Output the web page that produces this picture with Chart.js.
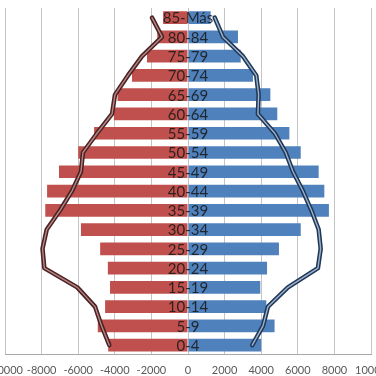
<!DOCTYPE html>
<html>
<head>
<meta charset="utf-8">
<script src="https://cdn.jsdelivr.net/npm/chart.js@4/dist/chart.umd.min.js"></script>
<style>
    html, body { margin: 0; padding: 0; background: #fff; overflow: hidden; width: 376px; height: 376px; }
    #wrap { position: absolute; left: -40px; top: 0; width: 456px; height: 400px; }
</style>
</head>
<body>
<div id="wrap"><canvas id="pyramid" width="456" height="400"></canvas></div>
<script>
/* ── Data ────────────────────────────────────────────── */
const AGE_GROUPS = ['0-4', '5-9', '10-14', '15-19', '20-24', '25-29', '30-34', '35-39', '40-44',
    '45-49', '50-54', '55-59', '60-64', '65-69', '70-74', '75-79', '80-84', '85-Más'];

// bars (left side as negatives, right side positive)
const LEFT_BARS = [-4360, -4930, -4530, -4260, -4380, -4800, -5850, -7800, -7700,
    -7050, -6000, -5130, -4050, -3850, -3060, -2240, -1680, -1360];
const RIGHT_BARS = [4000, 4730, 4280, 3950, 4320, 4970, 6160, 7700, 7450,
    7140, 6160, 5540, 4880, 4500, 3550, 2880, 2730, 1240];

// comparison outline
const LEFT_LINE = [-4300, -4720, -5080, -6050, -7850, -7950, -7720, -6990, -6340,
    -5850, -5740, -4970, -4150, -3990, -3280, -2510, -1420, -1970];
const RIGHT_LINE = [3510, 4100, 4370, 5460, 7100, 7250, 7140, 6740, 6280,
    5740, 5340, 4740, 3820, 3860, 3730, 3000, 1910, 1460];

const X_TICKS = [-10000, -8000, -6000, -4000, -2000, 0, 2000, 4000, 6000, 8000, 10000];

const RED = '#c0504d';
const BLUE = '#4f81bd';

function outline(data, color, width) {
    return {
        type: 'line',
        data,
        borderColor: color,
        borderWidth: width,
        pointRadius: 0,
        tension: 0,
        fill: false,
        borderCapStyle: 'round',
        borderJoinStyle: 'round',
    };
}

// age labels sit on the zero line, over the bars
const centerLabels = {
    id: 'centerLabels',
    afterDatasetsDraw(chart) {
        const { ctx, scales: { x, y } } = chart;
        ctx.save();
        ctx.font = '15px Lato, sans-serif';
        ctx.fillStyle = 'rgba(25,25,25,0.88)';
        ctx.textAlign = 'center';
        ctx.textBaseline = 'middle';
        AGE_GROUPS.forEach((lab, i) => {
            ctx.fillText(lab, x.getPixelForValue(0), y.getPixelForValue(i) + 1);
        });
        ctx.restore();
    },
};

// datasets are painted last-to-first, so the thin inner strokes come first
new Chart(document.getElementById('pyramid').getContext('2d'), {
    type: 'bar',
    data: {
        labels: AGE_GROUPS,
        datasets: [
            outline(LEFT_LINE, '#b98484', 1.4),
            outline(LEFT_LINE, '#4a2424', 4.5),
            outline(RIGHT_LINE, '#9db2cd', 1.4),
            outline(RIGHT_LINE, '#203857', 4.5),
            { data: LEFT_BARS, backgroundColor: RED, grouped: false, barPercentage: 0.66, categoryPercentage: 1 },
            { data: RIGHT_BARS, backgroundColor: BLUE, grouped: false, barPercentage: 0.66, categoryPercentage: 1 },
        ],
    },
    options: {
        indexAxis: 'y',
        responsive: false,
        animation: false,
        layout: { padding: { left: 45, right: 45, top: 8, bottom: 14 } },
        plugins: { legend: { display: false }, tooltip: { enabled: false } },
        scales: {
            x: {
                min: -10000,
                max: 10000,
                afterBuildTicks: (axis) => { axis.ticks = X_TICKS.map(v => ({ value: v })); },
                grid: { color: '#c4c4c4', drawTicks: false },
                border: { color: '#a8a8a8' },
                ticks: {
                    color: '#595959',
                    font: { family: 'Lato, sans-serif', size: 11 },
                    padding: 9,
                    maxRotation: 0,
                    autoSkip: false,
                    callback: (v) => String(v),
                },
            },
            y: { reverse: true, display: false },
        },
    },
    plugins: [centerLabels],
});
</script>
</body>
</html>
